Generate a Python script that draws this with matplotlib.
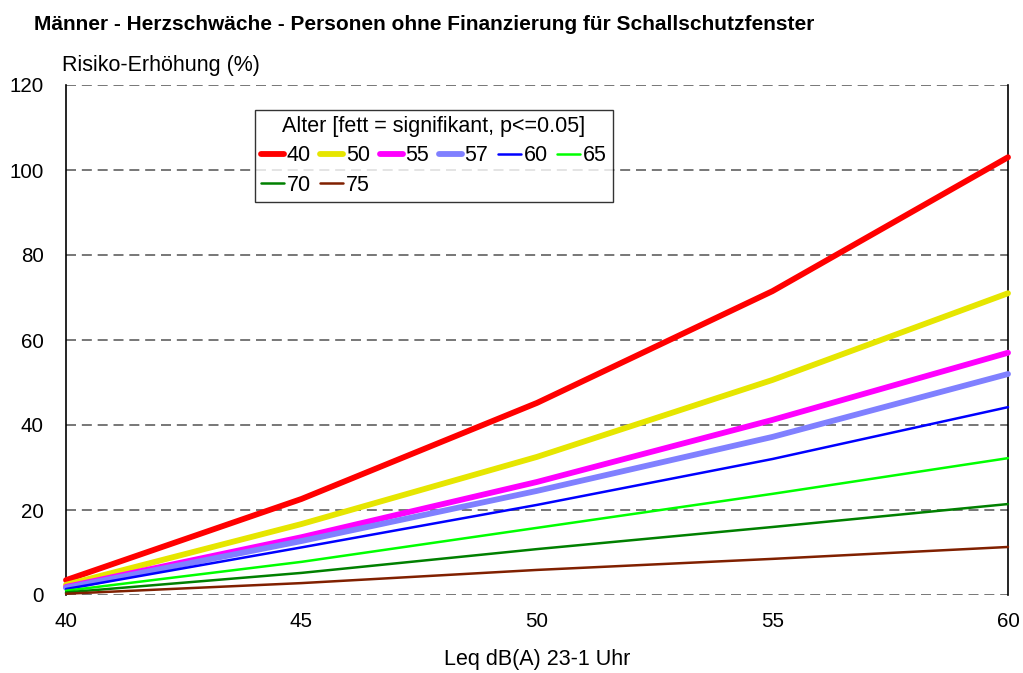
import matplotlib.pyplot as plt

plt.rcParams['font.family'] = ['Liberation Sans', 'DejaVu Sans']

# x: Leq dB(A) 23-1 Uhr
leq = [40, 45, 50, 55, 60]

# risk increase (%) per age group
age_40 = [3.5, 22.6, 45.2, 71.5, 103.0]
age_50 = [2.4, 16.7, 32.5, 50.6, 71.0]
age_55 = [1.9, 13.6, 26.6, 41.2, 57.0]
age_57 = [1.7, 12.7, 24.5, 37.2, 52.0]
age_60 = [1.4, 11.2, 21.2, 32.0, 44.2]
age_65 = [1.0, 7.8, 15.8, 23.8, 32.2]
age_70 = [0.6, 5.2, 10.8, 16.0, 21.4]
age_75 = [0.3, 2.8, 5.9, 8.5, 11.3]

labels = ['40', '50', '55', '57', '60', '65', '70', '75']
series = [age_40, age_50, age_55, age_57, age_60, age_65, age_70, age_75]
colors = ['#ff0000', '#e6e600', '#ff00ff', '#8080ff', '#0000ff', '#00ff00', '#008000', '#802000']
significant = [True, True, True, True, False, False, False, False]

fig = plt.figure(figsize=(10.23, 6.73), dpi=100)
ax = fig.add_axes([66/1023, 1 - 595/673, 942/1023, 510/673])

handles = []
for lab, vals, col, sig in zip(labels, series, colors, significant):
	lw = 4.2 if sig else 1.8
	h, = ax.plot(leq, vals, color=col, lw=lw, label=lab, solid_capstyle='round',
				 solid_joinstyle='round', clip_on=False, zorder=3)
	handles.append(h)

ax.set_xlim(40, 60)
ax.set_ylim(0, 120)
ax.set_xticks([40, 45, 50, 55, 60])
ax.set_yticks([0, 20, 40, 60, 80, 100, 120])
ax.tick_params(axis='both', length=0, labelsize=14.8)
ax.tick_params(axis='y', pad=16)
ax.tick_params(axis='x', pad=12)
ax.yaxis.grid(True, linestyle=(0, (6, 3.5)), color='#606060', lw=1.2)
ax.set_axisbelow(True)
for s in ['top', 'bottom']:
	ax.spines[s].set_visible(False)
for s in ['left', 'right']:
	ax.spines[s].set_color('black')
	ax.spines[s].set_linewidth(1.2)

# legend in row-major order (matplotlib fills columns first)
order = [0, 6, 1, 7, 2, 3, 4, 5]
leg = ax.legend([handles[i] for i in order], [labels[i] for i in order],
				ncol=6, title='Alter [fett = signifikant, p<=0.05]',
				loc='upper left', bbox_to_anchor=((255 - 66) / 942, (595 - 110) / 510),
				fontsize=15.5, title_fontsize=15.5, frameon=True, fancybox=False,
				handlelength=1.07, handletextpad=0.12, columnspacing=0.45,
				borderpad=0.28, labelspacing=0.4, borderaxespad=0)
leg.get_frame().set_edgecolor('black')
leg.get_frame().set_linewidth(1.0)
leg._legend_box.sep = 6

fig.text(34/1023, 1 - 25/673, 'Männer - Herzschwäche - Personen ohne Finanzierung für Schallschutzfenster',
		 fontsize=15, fontweight='bold', va='center', ha='left')
fig.text(62/1023, 1 - 65/673, 'Risiko-Erhöhung (%)', fontsize=15.5, va='center', ha='left')
fig.text(537/1023, 1 - 660/673, 'Leq dB(A) 23-1 Uhr', fontsize=15.5, va='center', ha='center')

fig.savefig('out.png', dpi=100)
